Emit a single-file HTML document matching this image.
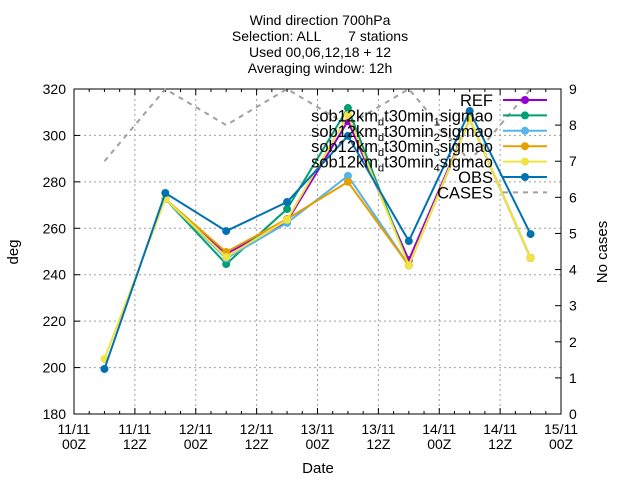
<!DOCTYPE html>
<html><head><meta charset="utf-8">
<style>
body{margin:0;background:#fff;}
svg text{font-family:"Liberation Sans",sans-serif;fill:#000;white-space:pre;}
</style></head>
<body>
<svg id="chart" width="640" height="480" viewBox="0 0 640 480" xmlns="http://www.w3.org/2000/svg">
<g font-size="14" text-anchor="middle">
<text x="320" y="25" font-size="14" xml:space="preserve">Wind direction 700hPa</text>
<text x="320" y="41" font-size="14" xml:space="preserve">Selection: ALL       7 stations</text>
<text x="320" y="57" font-size="14" xml:space="preserve">Used 00,06,12,18 + 12</text>
<text x="320" y="73" font-size="14" xml:space="preserve">Averaging window: 12h</text>
</g>
<g id="grid"></g>
<g id="axes"></g>
<g id="series"></g>
<g id="legend"></g>
<text x="18" y="252" font-size="15" text-anchor="middle" transform="rotate(-90 18 252)">deg</text>
<text x="607" y="252" font-size="15" text-anchor="middle" transform="rotate(-90 607 252)">No cases</text>
<text x="318" y="473" font-size="15" text-anchor="middle">Date</text>
</svg>
<script>
const xTickLabels1=["11/11","11/11","12/11","12/11","13/11","13/11","14/11","14/11","15/11"];
const xTickLabels2=["00Z","12Z","00Z","12Z","00Z","12Z","00Z","12Z","00Z"];
const yTicks=[180,200,220,240,260,280,300,320];
const y2Ticks=[0,1,2,3,4,5,6,7,8,9];
// x positions in hours since 11/11 00Z
const times=[6,18,30,42,54,66,78,90];
const ref=[null,272.6,249,263,306.2,246.3,307,247.2];
const sig1=[null,272.6,244.6,268.3,311.8,244,307,247.2];
const sig2=[null,272.6,247,262.3,282.6,244,307,247.2];
const sig3=[null,272.6,249.8,264,280,244,307,247.2];
const sig4=[203.7,272.6,247.6,263.6,308.8,244,307,247.2];
const obs=[199.4,275.2,258.8,271.3,299.8,254.5,310.5,257.5];
const cases=[7,9,8,9,8,9,7,9];

const L=74,R=561,T=89,B=414;
const xs=h=>L+(R-L)*h/96;
const ys=v=>B-(B-T)*(v-180)/140;
const y2s=v=>B-(B-T)*v/9;
const NS="http://www.w3.org/2000/svg";
function mk(tag,attrs,parent){const e=document.createElementNS(NS,tag);for(const k in attrs)e.setAttribute(k,attrs[k]);parent.appendChild(e);return e;}
const grid=document.getElementById('grid'),axes=document.getElementById('axes'),series=document.getElementById('series'),legend=document.getElementById('legend');

xTickLabels1.forEach((l,i)=>{
  const x=xs(i*12);
  if(i>0&&i<8){const g=mk('line',{x1:x,x2:x,y1:T,y2:B,stroke:'#a0a0a0','stroke-dasharray':'2,3'},grid);
  
  }
  mk('line',{x1:x,x2:x,y1:B,y2:B-6,stroke:'#000'},axes);
  mk('line',{x1:x,x2:x,y1:T,y2:T+6,stroke:'#000'},axes);
  const t=mk('text',{x:x,y:B+20,'font-size':14,'text-anchor':'middle'},axes);t.textContent=l;
  
  
  const t2=mk('text',{x:x,y:B+35,'font-size':14,'text-anchor':'middle'},axes);t2.textContent=xTickLabels2[i];
  
  
});
for(let h=3;h<96;h+=3){if(h%12===0)continue;const x=xs(h);
  mk('line',{x1:x,x2:x,y1:B,y2:B-3,stroke:'#000'},axes);mk('line',{x1:x,x2:x,y1:T,y2:T+3,stroke:'#000'},axes);}
yTicks.forEach(v=>{const y=ys(v);
  if(v>180&&v<320){const g=mk('line',{x1:L,x2:R,y1:y,y2:y,stroke:'#a0a0a0','stroke-dasharray':'2,3'},grid);
  
  }
  mk('line',{x1:L,x2:L+6,y1:y,y2:y,stroke:'#000'},axes);
  const t=mk('text',{x:L-8,y:y+5,'font-size':14,'text-anchor':'end'},axes);t.textContent=v;
  
  
});
y2Ticks.forEach(v=>{const y=y2s(v);
  mk('line',{x1:R-6,x2:R,y1:y,y2:y,stroke:'#000'},axes);
  const t=mk('text',{x:R+8,y:y+5,'font-size':14,'text-anchor':'start'},axes);t.textContent=v;
  
  
});
mk('rect',{x:L,y:T,width:R-L,height:B-T,fill:'none',stroke:'#000'},axes);

const defs=[
 {d:ref,c:'#9400d3',n:'ref'},
 {d:sig1,c:'#009e73',n:'sigmao1'},
 {d:sig2,c:'#56b4e9',n:'sigmao2'},
 {d:sig3,c:'#e69f00',n:'sigmao3'},
 {d:sig4,c:'#f0e442',n:'sigmao4'},
 {d:obs,c:'#0072b2',n:'obs'}];
// cases
{const pts=cases.map((v,i)=>xs(times[i])+','+y2s(v)).join(' ');
 const p=mk('polyline',{points:pts,fill:'none',stroke:'#a0a0a0','stroke-width':2,'stroke-dasharray':'5,5'},series);
 
 }
defs.forEach(s=>{
  const pts=[];s.d.forEach((v,i)=>{if(v!==null)pts.push(xs(times[i])+','+ys(v));});
  const p=mk('polyline',{points:pts.join(' '),fill:'none',stroke:s.c,'stroke-width':2},series);
  
  
  s.d.forEach((v,i)=>{if(v===null)return;
    const m=mk('circle',{cx:xs(times[i]),cy:ys(v),r:4,fill:s.c},series);
    
    });
});
// legend
const labels=[['REF'],['sob12km','d','t30min','1','sigmao'],['sob12km','d','t30min','2','sigmao'],['sob12km','d','t30min','3','sigmao'],['sob12km','d','t30min','4','sigmao'],['OBS'],['CASES']];
const lcol=['#9400d3','#009e73','#56b4e9','#e69f00','#f0e442','#0072b2','#a0a0a0'];
labels.forEach((lab,i)=>{
  const y=100+i*15.4;
  const t=mk('text',{x:493,y:y+6,'font-size':16.5,'text-anchor':'end'},legend);
  
  
  lab.forEach((s,j)=>{const ts=mk('tspan',{},t);ts.textContent=s;
    if(j%2===1){ts.setAttribute('font-size','11');ts.setAttribute('dy','4');}
    else if(j>0){ts.setAttribute('dy','-4');}});
  if(i<6){mk('line',{x1:503,x2:547,y1:y,y2:y,stroke:lcol[i],'stroke-width':2},legend);
    mk('circle',{cx:525,cy:y,r:4,fill:lcol[i]},legend);}
  else mk('line',{x1:503,x2:547,y1:y,y2:y,stroke:lcol[i],'stroke-width':2,'stroke-dasharray':'5,5'},legend);
});
</script>
</body></html>
